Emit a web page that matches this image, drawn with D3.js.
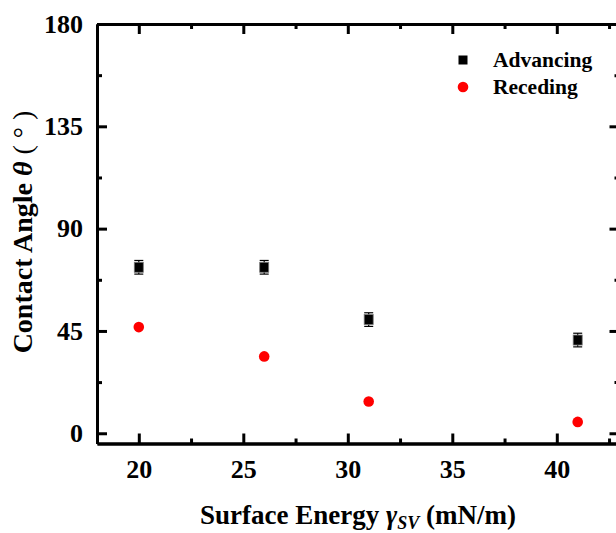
<!DOCTYPE html>
<html>
<head>
<meta charset="utf-8">
<script src="https://cdn.jsdelivr.net/npm/d3@7"></script>
<style>
  body { margin: 0; background: #fff; }
  svg { display: block; font-family: "Liberation Serif", "Times New Roman", serif; font-weight: bold; }
</style>
</head>
<body>
<svg id="chart" width="616" height="533"></svg>
<script>
// surface energy (mN/m)
const energy = [20, 26, 31, 41];
// contact angles (deg)
const advancing = [73, 73, 50, 41];
const advancingErr = [3, 3, 3, 3];
const receding = [46.7, 33.8, 14, 5];
const xTicks = [20, 25, 30, 35, 40];
const xMinor = [22.5, 27.5, 32.5, 37.5, 42.5];
const yTicks = [0, 45, 90, 135, 180];
const yMinor = [22.5, 67.5, 112.5, 157.5];

const svg = d3.select("#chart");
const x = d3.scaleLinear().domain([18, 43]).range([97, 619.5]);
const y = d3.scaleLinear().domain([-4.5, 180]).range([443.5, 24]);

function styleAxis(g) {
  g.select(".domain").attr("stroke", "#000").attr("stroke-width", 3);
  g.selectAll(".tick line").attr("stroke", "#000").attr("stroke-width", 3);
  g.selectAll("text").attr("fill", "#000").style("font-size", "26px")
    .style("font-family", "Liberation Serif, serif").style("font-weight", "bold");
}

// minor ticks first so the main axes draw the domain on top
svg.append("g").attr("transform", `translate(0,${y.range()[0]})`)
  .call(d3.axisBottom(x).tickValues(xMinor).tickSize(-5).tickSizeOuter(0).tickFormat(""))
  .call(styleAxis);
svg.append("g").attr("transform", `translate(0,${y.range()[1]})`)
  .call(d3.axisTop(x).tickValues(xMinor).tickSize(-5).tickSizeOuter(0).tickFormat(""))
  .call(styleAxis);
svg.append("g").attr("transform", `translate(${x.range()[0]},0)`)
  .call(d3.axisLeft(y).tickValues(yMinor).tickSize(-5).tickSizeOuter(0).tickFormat(""))
  .call(styleAxis);
svg.append("g").attr("transform", `translate(${x.range()[1]},0)`)
  .call(d3.axisRight(y).tickValues(yMinor).tickSize(-5).tickSizeOuter(0).tickFormat(""))
  .call(styleAxis);

svg.append("g").attr("transform", `translate(0,${y.range()[0]})`)
  .call(d3.axisBottom(x).tickValues(xTicks).tickSize(-10).tickSizeOuter(0).tickPadding(16))
  .call(styleAxis);
svg.append("g").attr("transform", `translate(0,${y.range()[1]})`)
  .call(d3.axisTop(x).tickValues(xTicks).tickSize(-10).tickSizeOuter(0).tickFormat(""))
  .call(styleAxis);
svg.append("g").attr("transform", `translate(${x.range()[0]},0)`)
  .call(d3.axisLeft(y).tickValues(yTicks).tickSize(-10).tickSizeOuter(0).tickPadding(14))
  .call(styleAxis);
svg.append("g").attr("transform", `translate(${x.range()[1]},0)`)
  .call(d3.axisRight(y).tickValues(yTicks).tickSize(-10).tickSizeOuter(0).tickFormat(""))
  .call(styleAxis);

// advancing error bars
const adv = energy.map((e, i) => ({ e, v: advancing[i], err: advancingErr[i] }));
const eb = svg.append("g").attr("stroke", "#000").attr("stroke-width", 1.2);
eb.selectAll("line.v").data(adv).join("line")
  .attr("x1", d => x(d.e)).attr("x2", d => x(d.e))
  .attr("y1", d => y(d.v + d.err)).attr("y2", d => y(d.v - d.err));
eb.selectAll("line.top").data(adv).join("line")
  .attr("x1", d => x(d.e) - 4.5).attr("x2", d => x(d.e) + 4.5)
  .attr("y1", d => y(d.v + d.err)).attr("y2", d => y(d.v + d.err));
eb.selectAll("line.bot").data(adv).join("line")
  .attr("x1", d => x(d.e) - 4.5).attr("x2", d => x(d.e) + 4.5)
  .attr("y1", d => y(d.v - d.err)).attr("y2", d => y(d.v - d.err));

svg.append("g").selectAll("rect").data(adv).join("rect")
  .attr("x", d => x(d.e) - 4.5).attr("y", d => y(d.v) - 5)
  .attr("width", 9).attr("height", 10)
  .attr("fill", "#000").attr("stroke", "#777").attr("stroke-width", 0.8);

svg.append("g").selectAll("circle").data(energy.map((e, i) => ({ e, v: receding[i] }))).join("circle")
  .attr("cx", d => x(d.e)).attr("cy", d => y(d.v)).attr("r", 5.3)
  .attr("fill", "#ff0000");

// legend
const lg = svg.append("g");
lg.append("rect").attr("x", 458.5).attr("y", 55.5).attr("width", 9).attr("height", 9).attr("fill", "#000");
lg.append("circle").attr("cx", 463).attr("cy", 87).attr("r", 5.3).attr("fill", "#ff0000");
lg.append("text").attr("x", 493).attr("y", 67).style("font-size", "21.5px").text("Advancing");
lg.append("text").attr("x", 493).attr("y", 94).style("font-size", "21.5px").text("Receding");

// axis titles
const xt = svg.append("text").attr("x", 358).attr("y", 524).attr("text-anchor", "middle")
  .style("font-size", "27px");
xt.append("tspan").text("Surface Energy ");
xt.append("tspan").style("font-style", "italic").text("γ");
xt.append("tspan").style("font-style", "italic").style("font-size", "18px").attr("dy", 5).text("SV");
xt.append("tspan").attr("dy", -5).text(" (mN/m)");

const yt = svg.append("text").attr("transform", "translate(32,232) rotate(-90)")
  .attr("text-anchor", "middle").style("font-size", "28px");
yt.append("tspan").text("Contact Angle ");
yt.append("tspan").style("font-style", "italic").text("θ");
yt.append("tspan").style("font-weight", "normal").text("  (  °  )");
</script>
</body>
</html>
